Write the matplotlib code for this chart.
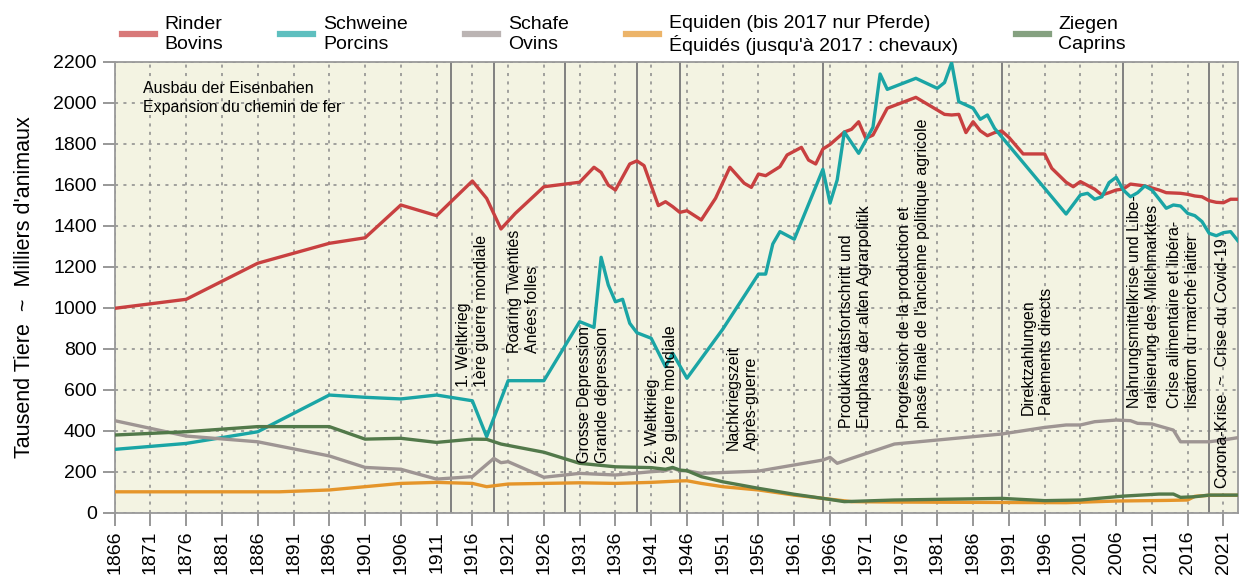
import matplotlib
matplotlib.use('Agg')
import matplotlib.pyplot as plt
from matplotlib.lines import Line2D

plt.rcParams['font.family'] = ['Liberation Sans', 'DejaVu Sans']

# --- data (Tausend Tiere) ---
rinder_years = [1866, 1876, 1886, 1896, 1901, 1906, 1911, 1916, 1918, 1920, 1922, 1926, 1931, 1933,
                1934, 1935, 1936, 1938, 1939, 1940, 1942, 1943, 1944, 1945, 1946, 1948, 1950, 1952,
                1954, 1955, 1956, 1957, 1959, 1960, 1962, 1963, 1964, 1965, 1966, 1968, 1969, 1970,
                1971, 1972, 1974, 1978, 1981, 1982, 1983, 1984, 1985, 1986, 1987, 1988, 1989, 1990,
                1991, 1993, 1996, 1997, 1999, 2000, 2001, 2003, 2004, 2005, 2006, 2007, 2008, 2010,
                2012, 2013, 2015, 2016, 2017, 2018, 2019, 2020, 2021, 2022, 2023]
rinder = [997, 1041, 1217, 1314, 1341, 1501, 1449, 1618, 1533, 1384, 1460, 1590, 1612, 1685,
          1660, 1598, 1574, 1701, 1716, 1693, 1498, 1517, 1493, 1465, 1473, 1428, 1534, 1685,
          1607, 1587, 1652, 1644, 1688, 1745, 1782, 1720, 1701, 1774, 1796, 1857, 1870, 1907,
          1826, 1842, 1973, 2026, 1964, 1943, 1940, 1943, 1854, 1907, 1863, 1839, 1854, 1862,
          1831, 1750, 1750, 1680, 1612, 1590, 1615, 1578, 1550, 1561, 1574, 1579, 1603, 1594,
          1574, 1561, 1558, 1553, 1545, 1541, 1522, 1514, 1512, 1529, 1529]

schweine_years = [1866, 1876, 1886, 1896, 1901, 1906, 1911, 1916, 1918, 1921, 1926, 1931, 1933,
                  1934, 1935, 1936, 1937, 1938, 1939, 1941, 1943, 1944, 1946, 1951, 1956, 1957,
                  1958, 1959, 1961, 1965, 1966, 1967, 1968, 1970, 1972, 1973, 1974, 1978, 1981,
                  1982, 1983, 1984, 1986, 1987, 1988, 1989, 1999, 2001, 2002, 2003, 2004, 2005,
                  2006, 2007, 2008, 2009, 2010, 2011, 2012, 2013, 2014, 2015, 2016, 2017, 2018,
                  2019, 2020, 2021, 2022, 2023]
schweine = [309, 338, 395, 574, 563, 555, 574, 546, 371, 644, 644, 932, 904,
            1246, 1111, 1029, 1041, 924, 878, 851, 712, 778, 656, 895, 1164, 1164,
            1311, 1371, 1334, 1675, 1510, 1623, 1857, 1753, 1880, 2140, 2065, 2119, 2070,
            2098, 2195, 2005, 1973, 1919, 1940, 1875, 1457, 1550, 1558, 1529, 1541, 1610,
            1636, 1574, 1541, 1561, 1594, 1574, 1530, 1485, 1501, 1496, 1460, 1449, 1420,
            1363, 1351, 1366, 1371, 1327]

schafe_years = [1866, 1876, 1886, 1896, 1901, 1906, 1911, 1916, 1919, 1920, 1921, 1926, 1931,
                1936, 1941, 1943, 1944, 1945, 1946, 1948, 1956, 1965, 1966, 1967, 1969, 1975,
                1990, 1996, 1999, 2001, 2003, 2006, 2008, 2009, 2011, 2014, 2015, 2017, 2019,
                2021, 2023]
schafe = [449, 374, 346, 277, 221, 212, 164, 176, 265, 244, 249, 173, 192,
          184, 200, 205, 217, 205, 205, 192, 203, 257, 270, 241, 265, 335,
          384, 416, 428, 428, 444, 452, 449, 436, 433, 403, 346, 346, 346,
          355, 366]

equiden_years = [1866, 1886, 1889, 1896, 1901, 1906, 1911, 1916, 1918, 1921, 1926, 1931, 1936,
                 1941, 1945, 1946, 1948, 1951, 1956, 1961, 1965, 1969, 1975, 1990, 1999, 2006,
                 2013, 2016, 2017, 2019, 2023]
equiden = [102, 102, 102, 111, 127, 143, 148, 143, 127, 140, 143, 146, 143,
           148, 155, 156, 143, 127, 111, 86, 70, 54, 52, 50, 49, 57,
           60, 62, 80, 85, 85]

ziegen_years = [1866, 1876, 1886, 1896, 1901, 1906, 1911, 1916, 1918, 1920, 1926, 1931, 1936,
                1941, 1943, 1944, 1945, 1946, 1948, 1951, 1956, 1961, 1965, 1968, 1975, 1990,
                1996, 2001, 2007, 2012, 2014, 2015, 2017, 2019, 2023]
ziegen = [379, 395, 420, 420, 359, 363, 343, 359, 358, 335, 295, 241, 224,
          220, 212, 221, 208, 205, 176, 151, 119, 90, 70, 54, 62, 70,
          59, 62, 81, 91, 91, 75, 78, 86, 86]

labels = ['Rinder\nBovins', 'Schweine\nPorcins', 'Schafe\nOvins',
          "Equiden (bis 2017 nur Pferde)\nÉquidés (jusqu'à 2017 : chevaux)", 'Ziegen\nCaprins']
colors = ['#C84040', '#1AA5A5', '#9E9593', '#E5952A', '#52794A']

period_lines = [1913, 1919, 1929, 1939, 1945, 1965, 1990, 2007, 2019]
period_texts = [
    (1916, 613, "1. Weltkrieg\n1ère guerre mondiale"),
    (1923.1, 778, "Roaring Twenties\nAnées folles"),
    (1932.9, 241, "Grosse Depression\nGrande dépression"),
    (1942.4, 241, "2. Weltkrieg\n2e guerre mondiale"),
    (1953.7, 305, "Nachkriegszeit\nAprès-guerre"),
    (1969.5, 412, "Produktivitätsfortschritt und\nEndphase der alten Agrarpolitik"),
    (1977.6, 412, "Progression de la production et\nphase finale de l'ancienne politique agricole"),
    (1995, 477, "Direktzahlungen\nPaiements directs"),
    (2009.8, 509, "Nahrungsmittelkrise und Libe-\nralisierung des Milchmarktes"),
    (2015.4, 509, "Crise alimentaire et libéra-\nlisation du marché laitier"),
    (2020.8, 119, "Corona-Krise  ~  Crise du Covid-19"),
]

fig = plt.figure(figsize=(12.4, 5.77), dpi=100)
ax = fig.add_axes([0.0925, 0.1114, 0.9057, 0.7817])
ax.set_facecolor('#F3F3E2')

series = [(rinder_years, rinder), (schweine_years, schweine), (schafe_years, schafe),
          (equiden_years, equiden), (ziegen_years, ziegen)]
for (yrs, vals), c in zip(series, colors):
    ax.plot(yrs, vals, color=c, lw=2.4, solid_joinstyle='round', zorder=3)

for yr in period_lines:
    ax.axvline(yr, color='#808080', lw=1.4, zorder=2)

for x, y, s in period_texts:
    ax.text(x, y, s, rotation=90, ha='center', va='bottom', multialignment='left',
            fontsize=11.5, linespacing=1.25, zorder=4)

ax.text(1869.9, 2105, "Ausbau der Eisenbahen\nExpansion du chemin de fer", ha='left', va='top',
        fontsize=11.5, linespacing=1.35)

ax.set_xlim(1866, 2023)
ax.set_ylim(0, 2200)
ax.set_xticks(range(1866, 2023, 5))
ax.set_yticks(range(0, 2201, 200))
ax.tick_params(axis='x', labelrotation=90)
ax.tick_params(length=9, width=1.3, color='#909090', labelsize=14, pad=4)
ax.grid(True, color='#8a8a8a', linestyle=(0, (2, 3.5)), lw=1.1, zorder=1)
ax.set_axisbelow(True)
for sp in ax.spines.values():
    sp.set_color('#999999')
    sp.set_linewidth(1.3)

ax.set_ylabel("Tausend Tiere  ~  Milliers d'animaux", fontsize=15.5, labelpad=13)

handles = [Line2D([], [], color=c, lw=4.5, alpha=0.7) for c in colors]
ax.legend(handles, labels, loc='lower left', bbox_to_anchor=(0, 1.0), ncol=5, frameon=False,
          fontsize=14, handlelength=1.7, handletextpad=0.5, columnspacing=2.95,
          borderpad=0, borderaxespad=0.35, labelspacing=0.2)

fig.savefig('out.png', dpi=100)
